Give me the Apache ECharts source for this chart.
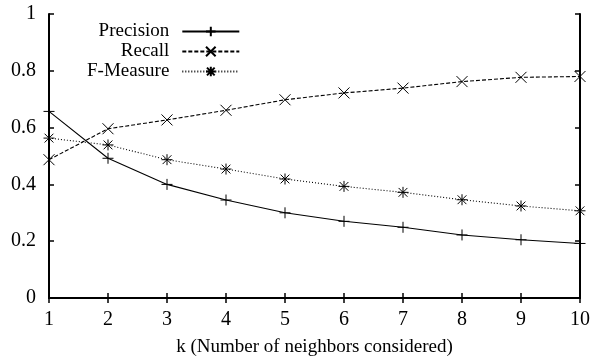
<!DOCTYPE html>
<html>
<head>
<meta charset="utf-8">
<script src="https://cdn.jsdelivr.net/npm/echarts@6/dist/echarts.min.js"></script>
<style>html,body{margin:0;padding:0;background:#fff}#c{width:598px;height:362px}</style>
</head>
<body>
<div id="c"></div>
<script>
const kValues = [1, 2, 3, 4, 5, 6, 7, 8, 9, 10];
const precision = [0.657, 0.492, 0.400, 0.345, 0.300, 0.270, 0.249, 0.222, 0.205, 0.192];
const recall = [0.487, 0.596, 0.627, 0.661, 0.698, 0.722, 0.739, 0.762, 0.777, 0.780];
const fMeasure = [0.563, 0.539, 0.487, 0.454, 0.419, 0.393, 0.372, 0.346, 0.324, 0.307];
const seriesNames = ['Precision', 'Recall', 'F-Measure'];
const xTitle = 'k (Number of neighbors considered)';

const FONT = 'Liberation Serif';
const plusPath = 'path://M5,0L5,10M0,5L10,5';
const crossPath = 'path://M0,0L10,10M10,0L0,10';
const starPath = 'path://M5,0L5,10M0,5L10,5M1,1L9,9M9,1L1,9';

function pairs(vals) { return kValues.map((k, i) => [k, vals[i]]); }

function mkSeries(name, vals, sym, size, type) {
  return {
    name: name, type: 'line', data: pairs(vals),
    symbol: sym, symbolSize: size, showAllSymbol: true,
    lineStyle: { color: '#000', width: 1.1, type: type },
    itemStyle: { color: '#000', borderColor: '#000', borderWidth: 1 },
    emphasis: { disabled: true }, animation: false
  };
}

const axisCommon = {
  axisLine: { show: true, lineStyle: { color: '#000', width: 2 } },
  axisTick: { show: true, inside: true, length: 5, lineStyle: { color: '#000', width: 1.5 } },
  splitLine: { show: false }
};

const chart = echarts.init(document.getElementById('c'), null, { renderer: 'canvas' });
chart.setOption({
  animation: false,
  backgroundColor: '#fff',
  textStyle: { fontFamily: FONT, color: '#000' },
  grid: { left: 49, right: 18, top: 14, bottom: 62 },
  legend: {
    data: seriesNames, orient: 'vertical', align: 'right',
    left: 82, top: 17, itemWidth: 57, itemHeight: 12, itemGap: 1,
    textStyle: { fontFamily: FONT, fontSize: 19, color: '#000', lineHeight: 18, padding: [0, 8, 0, 0] },
    selectedMode: false
  },
  xAxis: [
    Object.assign({ type: 'value', min: 1, max: 10, interval: 1, position: 'bottom',
      name: xTitle, nameLocation: 'middle', nameGap: 40,
      nameTextStyle: { fontFamily: FONT, fontSize: 19, color: '#000' },
      axisLabel: { fontFamily: FONT, fontSize: 20, color: '#000', margin: 12 } }, axisCommon),
    Object.assign({ type: 'value', min: 1, max: 10, interval: 1, position: 'top',
      axisLabel: { show: false } }, axisCommon)
  ],
  yAxis: [
    Object.assign({ type: 'value', min: 0, max: 1, interval: 0.2, position: 'left',
      axisLabel: { fontFamily: FONT, fontSize: 20, color: '#000', margin: 13 } }, axisCommon),
    Object.assign({ type: 'value', min: 0, max: 1, interval: 0.2, position: 'right',
      axisLabel: { show: false } }, axisCommon)
  ],
  series: [
    mkSeries(seriesNames[0], precision, plusPath, 11, 'solid'),
    mkSeries(seriesNames[1], recall, crossPath, 11, [4, 2]),
    mkSeries(seriesNames[2], fMeasure, starPath, 11, [1, 2])
  ]
});
</script>
</body>
</html>
